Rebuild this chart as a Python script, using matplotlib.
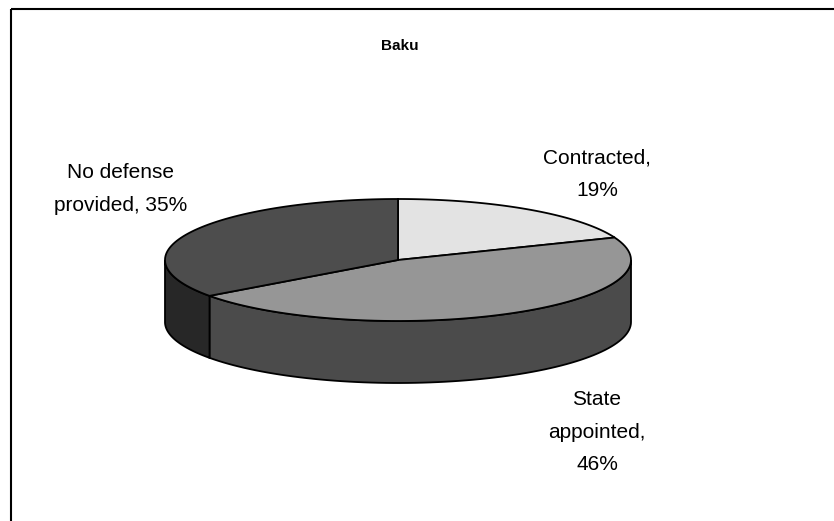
import matplotlib.pyplot as plt
import numpy as np
from matplotlib.patches import Polygon, Rectangle

plt.rcParams['font.family'] = ['Liberation Sans', 'DejaVu Sans']

title = "Baku"
labels = ["Contracted", "State appointed", "No defense provided"]
values = [19, 46, 35]
top_colors = ["#e3e3e3", "#969696", "#4d4d4d"]
side_colors = ["#717171", "#4b4b4b", "#272727"]

# pie geometry in pixels
cx, cy = 398, 260
rx, ry = 233, 61
depth = 62


def arc(t0, t1, n=80):
    # angle measured clockwise from 12 o'clock
    t = np.radians(np.linspace(t0, t1, n))
    return cx + rx * np.sin(t), cy - ry * np.cos(t)


fig = plt.figure(figsize=(8.34, 5.21), dpi=100)
ax = fig.add_axes([0, 0, 1, 1])
ax.set_xlim(0, 834)
ax.set_ylim(521, 0)
ax.axis('off')

# chart frame (runs off the right and bottom edges)
ax.add_patch(Rectangle((11, 9), 900, 600, fill=False, edgecolor='black', lw=1.5))

angles = np.concatenate([[0], np.cumsum(values) / np.sum(values) * 360])

# visible outer walls first (front half: 90..270 deg)
for i in range(len(values)):
    a, b = max(angles[i], 90), min(angles[i + 1], 270)
    if a >= b:
        continue
    x, y = arc(a, b)
    pts = np.column_stack([np.concatenate([x, x[::-1]]),
                           np.concatenate([y, y[::-1] + depth])])
    ax.add_patch(Polygon(pts, closed=True, facecolor=side_colors[i],
                         edgecolor='black', lw=1.3))

# top faces
for i in range(len(values)):
    x, y = arc(angles[i], angles[i + 1])
    pts = np.column_stack([np.concatenate([[cx], x]), np.concatenate([[cy], y])])
    ax.add_patch(Polygon(pts, closed=True, facecolor=top_colors[i],
                         edgecolor='black', lw=1.3))

ax.text(400, 46, title, ha='center', va='center', fontsize=11, fontweight='bold')

fs = 15
ax.text(597, 174, f"{labels[0]},\n{values[0]}%", ha='center', va='center',
        fontsize=fs, linespacing=1.9)
ax.text(597, 432, "State\nappointed,\n" + f"{values[1]}%", ha='center', va='center',
        fontsize=fs, linespacing=1.9)
ax.text(121, 189, "No defense\nprovided, " + f"{values[2]}%", ha='center', va='center',
        fontsize=fs, linespacing=1.9)

plt.savefig("out.png", dpi=100)
